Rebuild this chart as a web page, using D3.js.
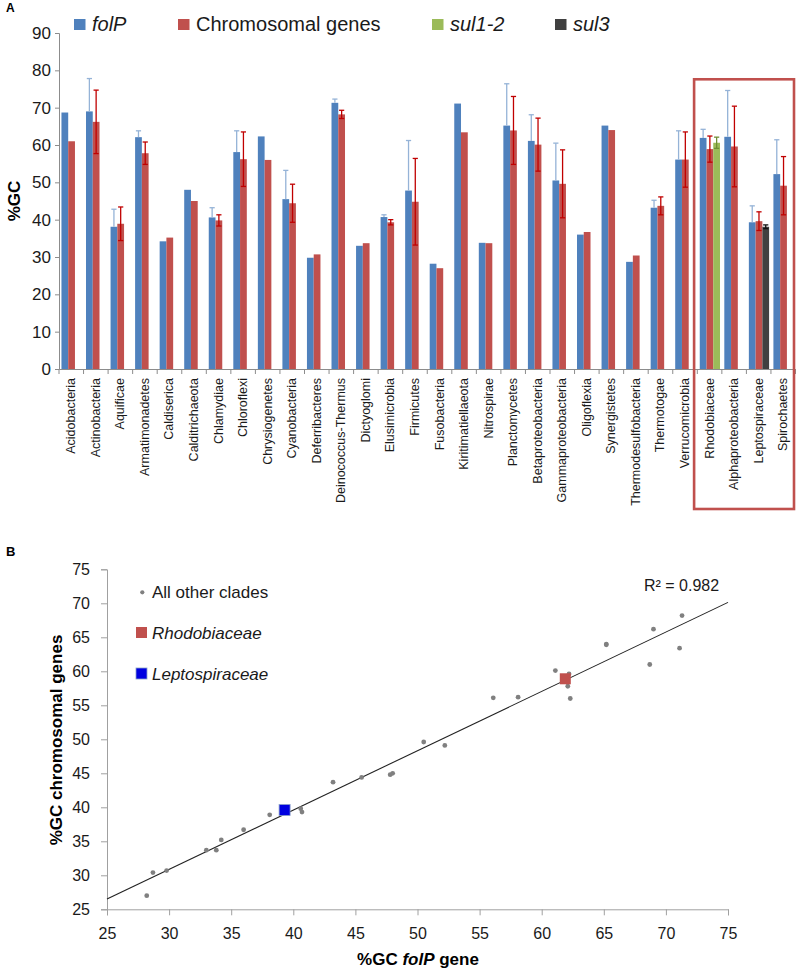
<!DOCTYPE html>
<html><head><meta charset="utf-8">
<script src="https://cdn.jsdelivr.net/npm/d3@7"></script>
<style>
body{margin:0;background:#fff}
svg{display:block}
text{font-family:"Liberation Sans",Arial,sans-serif}
</style>
</head><body>
<svg id="c" width="800" height="974"></svg>
<script>
// ---------- DATA ----------
const categories = ["Acidobacteria","Actinobacteria","Aquificae","Armatimonadetes","Caldiserica","Calditrichaeota","Chlamydiae","Chloroflexi","Chrysiogenetes","Cyanobacteria","Deferribacteres","Deinococcus-Thermus","Dictyoglomi","Elusimicrobia","Firmicutes","Fusobacteria","Kiritimatiellaeota","Nitrospirae","Planctomycetes","Betaproteobacteria","Gammaproteobacteria","Oligoflexia","Synergistetes","Thermodesulfobacteria","Thermotogae","Verrucomicrobia","Rhodobiaceae","Alphaproteobacteria","Leptospiraceae","Spirochaetes"];
const folP = [68.7,69.0,38.1,62.1,34.2,48.0,40.6,58.1,62.3,45.5,29.8,71.3,33.0,40.7,47.8,28.2,71.1,33.8,65.2,61.1,50.5,36.0,65.2,28.7,43.2,56.1,61.9,62.2,39.3,52.2];
const folPErr = [0,8.8,4.7,1.7,0,0,2.6,5.7,0,7.7,0,1.0,0,0.6,13.4,0,0,0,11.2,7.0,10.0,0,0,0,2.0,7.7,2.3,12.4,4.4,9.2];
const chromosomal = [61.0,66.2,38.9,57.8,35.2,45.0,39.8,56.2,56.0,44.4,30.7,68.2,33.7,39.3,44.8,27.0,63.4,33.7,63.9,60.1,49.6,36.7,64.0,30.4,43.7,56.1,58.9,59.6,39.6,49.1];
const chromosomalErr = [0,8.5,4.5,3.0,0,0,1.5,7.3,0,5.1,0,1.1,0,0.7,11.6,0,0,0,9.1,7.1,9.1,0,0,0,2.4,7.4,3.5,10.8,2.5,7.8];
const sulSeries = ["sul1-2","sul3"];
const sulCategories = ["Rhodobiaceae","Leptospiraceae"];
const sulValues = [60.6,38.1];
const sulErr = [1.5,0.5];
const highlightCategories = ["Rhodobiaceae","Alphaproteobacteria","Leptospiraceae","Spirochaetes"];
const yTicksA = [0,10,20,30,40,50,60,70,80,90];
const axisTicksB = [25,30,35,40,45,50,55,60,65,70,75];
const scatterSpecial = ["Rhodobiaceae","Leptospiraceae"];
const r2Label = "R\u00B2 = 0.982";

// ---------- STYLE ----------
const C = {blue:"#4f81bd", red:"#c0504d", green:"#9bbb59", dark:"#404040",
  blueErr:"#95b3d7", redErr:"#c00000", greenErr:"#6f8f35", darkErr:"#111",
  axis:"#8c8c8c", text:"#1a1a1a", box:"#c0504d", dot:"#808080", sqRed:"#c0504d", sqBlue:"#0000e0"};

const svg = d3.select("#c");

// ================= PANEL A =================
const x = d3.scaleBand().domain(categories).range([59, 795.5]).padding(0);
const bw = x.bandwidth();
const sub = d3.scaleBand().domain([0,1,2]).range([bw*0.10, bw*0.10 + 3*bw*0.275]).padding(0);
const y = d3.scaleLinear().domain([0,90]).range([369,33]);

const gA = svg.append("g");

// axes
const yAx = gA.append("g").attr("transform","translate(59,0)")
  .call(d3.axisLeft(y).tickValues(yTicksA).tickSize(4).tickPadding(4).tickFormat(d3.format("d")));
yAx.select(".domain").attr("stroke",C.axis);
yAx.selectAll(".tick line").attr("stroke",C.axis);
yAx.selectAll(".tick text").attr("font-size",17).attr("fill",C.text).style("font-family","Liberation Sans, Arial, sans-serif");

const xAx = gA.append("g").attr("transform","translate(0,369)")
  .call(d3.axisBottom(x).tickSize(0).tickFormat(""));
xAx.select(".domain").attr("stroke",C.axis);
// tick marks at category boundaries
gA.append("g").selectAll("line").data(categories.concat(["__end"])).join("line")
  .attr("x1",(d,i)=> i<categories.length ? x(d) : x(categories[categories.length-1])+bw)
  .attr("x2",(d,i)=> i<categories.length ? x(d) : x(categories[categories.length-1])+bw)
  .attr("y1",369).attr("y2",374).attr("stroke",C.axis);

// category labels
gA.append("g").selectAll("text").data(categories).join("text")
  .attr("transform",d=>`translate(${x(d)+bw/2},378) rotate(-90)`)
  .attr("text-anchor","end").attr("dominant-baseline","central")
  .attr("font-size",12.5).attr("fill",C.text).text(d=>d);

// bars
function drawSeries(cats, vals, errs, slot, color, errColor, both){
  const data = cats.map((c,i)=>({c, v:vals[i], e:errs[i]}));
  gA.append("g").selectAll("rect").data(data).join("rect")
    .attr("x",d=>x(d.c)+sub(slot)).attr("width",sub.bandwidth())
    .attr("y",d=>y(d.v)).attr("height",d=>y(0)-y(d.v)).attr("fill",color);
  const ed = data.filter(d=>d.e>0);
  const eg = gA.append("g").attr("stroke",errColor).attr("stroke-width",1.3);
  const cx = d=>x(d.c)+sub(slot)+sub.bandwidth()/2;
  eg.selectAll(".v").data(ed).join("line").attr("class","v")
    .attr("x1",cx).attr("x2",cx).attr("y1",d=>y(d.v+d.e)).attr("y2",d=>both?y(d.v-d.e):y(d.v));
  eg.selectAll(".t").data(ed).join("line").attr("class","t")
    .attr("x1",d=>cx(d)-2.6).attr("x2",d=>cx(d)+2.6).attr("y1",d=>y(d.v+d.e)).attr("y2",d=>y(d.v+d.e));
  if(both){
    eg.selectAll(".b").data(ed).join("line").attr("class","b")
      .attr("x1",d=>cx(d)-2.6).attr("x2",d=>cx(d)+2.6).attr("y1",d=>y(d.v-d.e)).attr("y2",d=>y(d.v-d.e));
  }
}
drawSeries(categories, folP, folPErr, 0, C.blue, C.blueErr, false);
drawSeries(categories, chromosomal, chromosomalErr, 1, C.red, C.redErr, true);
drawSeries([sulCategories[0]], [sulValues[0]], [sulErr[0]], 2, C.green, C.greenErr, true);
drawSeries([sulCategories[1]], [sulValues[1]], [sulErr[1]], 2, C.dark, C.darkErr, true);

// highlight box
const bx0 = x(highlightCategories[0]) - 3.2;
const bx1 = x(highlightCategories[highlightCategories.length-1]) + bw - 1.5;
gA.append("rect").attr("x",bx0).attr("y",y(77.6)).attr("width",bx1-bx0).attr("height",509-y(77.6))
  .attr("fill","none").attr("stroke",C.box).attr("stroke-width",2.6);

// y title
gA.append("text").attr("transform","translate(20,201) rotate(-90)").attr("text-anchor","middle")
  .attr("font-size",17).attr("font-weight","bold").attr("fill","#000").text("%GC");

// panel label
svg.append("text").attr("x",6).attr("y",12).attr("font-size",12).attr("font-weight","bold").text("A");

// legend
const legA = [
  {label:"folP", color:C.blue, x:74, italic:true},
  {label:"Chromosomal genes", color:C.red, x:178, italic:false},
  {label:sulSeries[0], color:C.green, x:432, italic:true},
  {label:sulSeries[1], color:C.dark, x:555, italic:true}
];
const lg = svg.append("g").selectAll("g").data(legA).join("g");
lg.append("rect").attr("x",d=>d.x).attr("y",19).attr("width",11.5).attr("height",11).attr("fill",d=>d.color);
lg.append("text").attr("x",d=>d.x+18).attr("y",30.5).attr("font-size",20).attr("fill",C.text)
  .attr("font-style",d=>d.italic?"italic":"normal").text(d=>d.label);

// ================= PANEL B =================
const xs = d3.scaleLinear().domain([25,75]).range([107,728]);
const ys = d3.scaleLinear().domain([25,75]).range([909.3,569.3]);
const gB = svg.append("g");

const xsAx = gB.append("g").attr("transform","translate(0,909.3)")
  .call(d3.axisBottom(xs).tickValues(axisTicksB).tickSize(6).tickPadding(12).tickFormat(d3.format("d")));
const ysAx = gB.append("g").attr("transform","translate(107,0)")
  .call(d3.axisLeft(ys).tickValues(axisTicksB).tickSize(6).tickPadding(11).tickFormat(d3.format("d")));
[xsAx,ysAx].forEach(a=>{
  a.select(".domain").attr("stroke","#a0a0a0");
  a.selectAll(".tick line").attr("stroke","#a0a0a0");
  a.selectAll(".tick text").attr("font-size",16).attr("fill",C.text).style("font-family","Liberation Sans, Arial, sans-serif");
});

// regression from data
const pts = categories.map((c,i)=>({c, x:folP[i], y:chromosomal[i]}));
const n = pts.length;
const mx = d3.mean(pts,d=>d.x), my = d3.mean(pts,d=>d.y);
const slope = d3.sum(pts,d=>(d.x-mx)*(d.y-my))/d3.sum(pts,d=>(d.x-mx)*(d.x-mx));
const icpt = my - slope*mx;
gB.append("line").attr("x1",xs(25)).attr("x2",xs(75))
  .attr("y1",ys(icpt+slope*25)).attr("y2",ys(icpt+slope*75))
  .attr("stroke","#222").attr("stroke-width",1.1);

gB.append("g").selectAll("circle").data(pts.filter(d=>!scatterSpecial.includes(d.c))).join("circle")
  .attr("cx",d=>xs(d.x)).attr("cy",d=>ys(d.y)).attr("r",2.4).attr("fill",C.dot);
const sqColor = {Rhodobiaceae:C.sqRed, Leptospiraceae:C.sqBlue};
gB.append("g").selectAll("rect").data(pts.filter(d=>scatterSpecial.includes(d.c))).join("rect")
  .attr("x",d=>xs(d.x)-5.5).attr("y",d=>ys(d.y)-5.5).attr("width",11).attr("height",11)
  .attr("fill",d=>sqColor[d.c]).attr("stroke",d=>d.c==="Leptospiraceae"?"#8aa0c8":"none").attr("stroke-width",0.8);

// R2
gB.append("text").attr("x",644).attr("y",591).attr("font-size",16).attr("fill",C.text).text(r2Label);

// legend B
gB.append("circle").attr("cx",142.3).attr("cy",592.3).attr("r",2.1).attr("fill",C.dot);
gB.append("text").attr("x",152).attr("y",598).attr("font-size",17).attr("fill",C.text).text("All other clades");
gB.append("rect").attr("x",136).attr("y",627).attr("width",11).attr("height",11).attr("fill",C.sqRed);
gB.append("text").attr("x",152).attr("y",638.5).attr("font-size",17).attr("font-style","italic").attr("fill",C.text).text(scatterSpecial[0]);
gB.append("rect").attr("x",136).attr("y",668).attr("width",11).attr("height",11).attr("fill",C.sqBlue).attr("stroke","#8aa0c8").attr("stroke-width",0.8);
gB.append("text").attr("x",152).attr("y",679.5).attr("font-size",17).attr("font-style","italic").attr("fill",C.text).text(scatterSpecial[1]);

// axis titles
gB.append("text").attr("transform","translate(62,740) rotate(-90)").attr("text-anchor","middle")
  .attr("font-size",17).attr("font-weight","bold").attr("fill","#000").text("%GC chromosomal genes");
const xt = gB.append("text").attr("x",418).attr("y",965).attr("text-anchor","middle")
  .attr("font-size",17).attr("font-weight","bold").attr("fill","#000");
xt.append("tspan").text("%GC ");
xt.append("tspan").attr("font-style","italic").text("folP");
xt.append("tspan").text(" gene");

svg.append("text").attr("x",6).attr("y",556).attr("font-size",13).attr("font-weight","bold").text("B");
</script>
</body></html>
